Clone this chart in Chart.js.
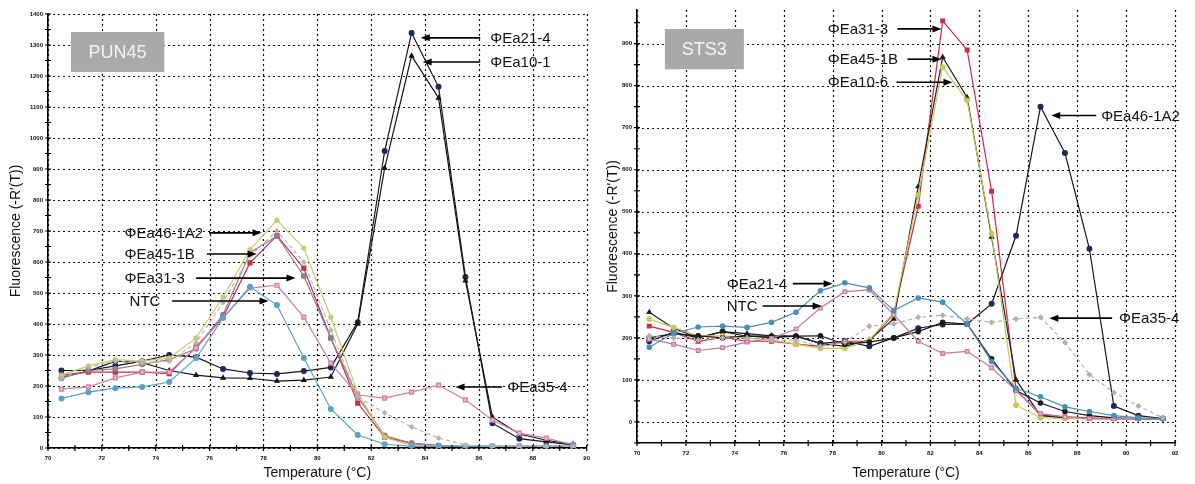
<!DOCTYPE html>
<html lang="en">
<head>
<meta charset="UTF-8">
<title>Melt curves PUN45 / STS3</title>
<script src="https://cdn.jsdelivr.net/npm/chart.js"></script>
<style>
    html, body { margin: 0; padding: 0; background: #fff; }
    body {
        width: 1195px;
        height: 484px;
        position: relative;
        overflow: hidden;
        font-family: 'Liberation Sans', Arial, sans-serif;
    }
    .panel { position: absolute; top: 0; height: 484px; }
    #left { left: 0; width: 597px; }
    #right { left: 597px; width: 598px; }
</style>
</head>
<body>
<div class="panel" id="left"><canvas id="punChart"></canvas></div>
<div class="panel" id="right"><canvas id="stsChart"></canvas></div>

<script>
// ---- PUN45 panel (left) ----
const punTemps = [70.5, 71.5, 72.5, 73.5, 74.5, 75.5, 76.5, 77.5, 78.5, 79.5,
                  80.5, 81.5, 82.5, 83.5, 84.5, 85.5, 86.5, 87.5, 88.5, 89.5];
const pun21_4   = [250, 250, 265, 280, 300, 293, 255, 242, 239, 248, 260, 406, 958, 1339, 1165, 552, 80, 30, 20, 10];
const pun10_1   = [228, 248, 280, 275, 250, 235, 226, 225, 216, 219, 229, 400, 903, 1265, 1129, 540, 100, 45, 25, 12];
const pun46_1A2 = [235, 265, 285, 280, 290, 355, 487, 640, 735, 645, 422, 177, 35, 8, 5, 5, 5, 5, 5, 5];
const pun45_1B  = [225, 250, 255, 270, 285, 320, 430, 630, 684, 555, 355, 165, 40, 15, 8, 5, 5, 5, 5, 5];
const pun31_3   = [235, 245, 245, 245, 240, 326, 422, 597, 685, 580, 355, 145, 35, 15, 8, 5, 5, 5, 5, 5];
const pun35_4   = [190, 197, 226, 245, 245, 323, 420, 516, 525, 422, 274, 171, 161, 180, 203, 155, 90, 48, 32, 10];
const punNTC    = [160, 180, 193, 197, 213, 290, 420, 520, 461, 290, 126, 42, 12, 5, 5, 5, 5, 5, 5, 5];
const pun10_6   = [225, 260, 280, 275, 280, 340, 470, 620, 700, 600, 380, 165, 113, 68, 32, 10, 5, 5, 5, 5];

// ---- STS3 panel (right) ----
const stsTemps = [70.5, 71.5, 72.5, 73.5, 74.5, 75.5, 76.5, 77.5, 78.5, 79.5, 80.5,
                  81.5, 82.5, 83.5, 84.5, 85.5, 86.5, 87.5, 88.5, 89.5, 90.5, 91.5];
const sts31_3   = [228, 213, 192, 201, 192, 192, 185, 180, 192, 192, 257, 513, 954, 885, 549, 77, 17, 12, 10, 8, 8, 8];
const sts45_1B  = [261, 223, 200, 215, 210, 205, 204, 187, 180, 195, 245, 560, 868, 772, 440, 100, 15, 10, 8, 8, 8, 8];
const sts10_6   = [245, 225, 205, 205, 200, 195, 185, 175, 175, 195, 260, 540, 844, 765, 448, 40, 10, 8, 8, 8, 8, 8];
const sts46_1A2 = [192, 213, 200, 215, 204, 204, 204, 187, 192, 180, 200, 223, 232, 233, 281, 443, 750, 640, 412, 38, 15, 8];
const sts21_4   = [178, 211, 226, 228, 225, 237, 261, 312, 331, 319, 265, 295, 285, 233, 144, 80, 60, 36, 25, 15, 10, 8];
const stsNTC    = [197, 185, 170, 177, 190, 199, 221, 271, 310, 314, 255, 192, 163, 168, 129, 75, 20, 12, 8, 8, 8, 8];
const sts35_4   = [205, 200, 195, 200, 200, 195, 195, 180, 190, 228, 233, 249, 254, 245, 237, 245, 249, 189, 113, 70, 38, 10];
const stsOther  = [200, 210, 205, 200, 205, 200, 204, 205, 185, 190, 200, 215, 237, 233, 150, 75, 45, 25, 15, 10, 8, 8];

// arrow labels: text starts at textT, arrow runs from tailT to tipT at height v
const punNotes = [
    { text: 'ΦEa21-4',   v: 1323, textT: 86.42, tailT: 86.05, tipT: 83.84 },
    { text: 'ΦEa10-1',   v: 1245, textT: 86.42, tailT: 86.05, tipT: 83.91 },
    { text: 'ΦEa46-1A2', v: 694,  textT: 72.84, tailT: 75.98, tipT: 77.93 },
    { text: 'ΦEa45-1B',  v: 626,  textT: 72.84, tailT: 75.90, tipT: 77.75 },
    { text: 'ΦEa31-3',   v: 548,  textT: 72.84, tailT: 75.50, tipT: 79.19 },
    { text: 'NTC',       v: 474,  textT: 73.03, tailT: 74.61, tipT: 78.19 },
    { text: 'ΦEa35-4',   v: 197,  textT: 87.05, tailT: 86.86, tipT: 85.13 }
];
const stsNotes = [
    { text: 'ΦEa31-3',   v: 935, textT: 77.80, tailT: 80.65, tipT: 82.45 },
    { text: 'ΦEa45-1B',  v: 863, textT: 77.80, tailT: 81.06, tipT: 82.45 },
    { text: 'ΦEa10-6',   v: 808, textT: 77.80, tailT: 80.61, tipT: 82.90 },
    { text: 'ΦEa46-1A2', v: 729, textT: 88.98, tailT: 88.78, tipT: 86.94 },
    { text: 'ΦEa21-4',   v: 329, textT: 73.67, tailT: 76.37, tipT: 78.00 },
    { text: 'NTC',       v: 276, textT: 73.67, tailT: 75.14, tipT: 77.55 },
    { text: 'ΦEa35-4',   v: 247, textT: 89.71, tailT: 89.43, tipT: 86.86 }
];

const FONT = "'Liberation Sans', Arial, sans-serif";

function series(label, temps, vals, color, extra) {
    return Object.assign({
        label: label,
        data: temps.map((t, i) => ({ x: t, y: vals[i] })),
        borderColor: color,
        backgroundColor: color,
        borderWidth: 1.2,
        pointRadius: 2.2,
        pointHoverRadius: 2.2,
        pointStyle: 'circle',
        tension: 0,
        fill: false
    }, extra || {});
}

function notesPlugin(title, box, notes) {
    return {
        id: 'notes',
        afterDatasetsDraw(chart) {
            const { ctx, scales: { x, y } } = chart;
            ctx.save();
            // title box
            const bx0 = x.getPixelForValue(box.t0), bx1 = x.getPixelForValue(box.t1);
            const by0 = y.getPixelForValue(box.v0), by1 = y.getPixelForValue(box.v1);
            ctx.fillStyle = '#a9a9a9';
            ctx.fillRect(bx0, by0, bx1 - bx0, by1 - by0);
            ctx.fillStyle = '#f4f4f4';
            ctx.font = '18px ' + FONT;
            ctx.textAlign = 'center';
            ctx.textBaseline = 'middle';
            ctx.fillText(title, (bx0 + bx1) / 2, (by0 + by1) / 2 + 1);

            ctx.font = '15px ' + FONT;
            ctx.textAlign = 'left';
            notes.forEach(n => {
                const py = y.getPixelForValue(n.v);
                const x0 = x.getPixelForValue(n.tailT);
                const x1 = x.getPixelForValue(n.tipT);
                const dir = Math.sign(x1 - x0);
                ctx.strokeStyle = '#000';
                ctx.fillStyle = '#000';
                ctx.lineWidth = 1.6;
                ctx.beginPath();
                ctx.moveTo(x0, py);
                ctx.lineTo(x1 - dir * 6, py);
                ctx.stroke();
                ctx.beginPath();
                ctx.moveTo(x1, py);
                ctx.lineTo(x1 - dir * 9, py - 3.5);
                ctx.lineTo(x1 - dir * 9, py + 3.5);
                ctx.closePath();
                ctx.fill();
                ctx.fillStyle = '#111';
                ctx.fillText(n.text, x.getPixelForValue(n.textT), py + 1);
            });
            ctx.restore();
        }
    };
}

// dotted grid at the labelled ticks, plus small tick marks across both axes
const axisTicks = {
    id: 'axisTicks',
    beforeDatasetsDraw(chart) {
        const { ctx, chartArea: a, scales: { x, y } } = chart;
        ctx.save();
        ctx.strokeStyle = '#111';
        ctx.lineWidth = 1.2;
        ctx.setLineDash([2, 3]);
        x.ticks.forEach(t => {
            const px = Math.round(x.getPixelForValue(t.value)) + 0.5;
            ctx.beginPath();
            ctx.moveTo(px, a.top);
            ctx.lineTo(px, a.bottom);
            ctx.stroke();
        });
        y.ticks.forEach(t => {
            const py = Math.round(y.getPixelForValue(t.value)) + 0.5;
            ctx.beginPath();
            ctx.moveTo(a.left, py);
            ctx.lineTo(a.right, py);
            ctx.stroke();
        });
        ctx.restore();
    },
    afterDraw(chart) {
        const { ctx, chartArea: a, scales: { x, y } } = chart;
        ctx.save();
        ctx.strokeStyle = '#000';
        ctx.lineWidth = 1.2;
        ctx.beginPath();
        for (let t = Math.ceil(x.min); t <= x.max; t++) {
            const px = x.getPixelForValue(t);
            ctx.moveTo(px, a.bottom - 3);
            ctx.lineTo(px, a.bottom + 3);
        }
        for (let v = Math.ceil(y.min / 50) * 50; v <= y.max; v += 50) {
            const py = y.getPixelForValue(v);
            ctx.moveTo(a.left - 3, py);
            ctx.lineTo(a.left + 3, py);
        }
        ctx.stroke();
        ctx.restore();
    }
};

function makeChart(id, cfg) {
    const tickFont = { family: FONT, size: 6, weight: 'bold' };
    const noGrid = { display: true, drawOnChartArea: false, drawTicks: false };
    return new Chart(document.getElementById(id), {
        type: 'line',
        data: { datasets: cfg.datasets },
        options: {
            responsive: true,
            maintainAspectRatio: false,
            animation: false,
            layout: { padding: { top: cfg.padTop, right: cfg.padRight, left: 0, bottom: 0 } },
            plugins: { legend: { display: false }, tooltip: { enabled: false } },
            scales: {
                x: {
                    type: 'linear',
                    min: cfg.xMin,
                    max: cfg.xMax,
                    ticks: { stepSize: 2, font: tickFont, color: '#111', padding: 7, maxRotation: 0, autoSkip: false,
                             callback: v => String(v) },
                    grid: noGrid,
                    border: { display: true, color: '#000', width: 1.6 },
                    title: { display: true, text: 'Temperature (°C)', font: { family: FONT, size: 14 }, color: '#111', padding: { top: 0, bottom: 2 } },
                    afterFit: s => { s.height = cfg.xAxisH; }
                },
                y: {
                    min: cfg.yMin,
                    max: cfg.yMax,
                    ticks: { stepSize: 100, includeBounds: false, font: tickFont, color: '#111', padding: 5,
                             callback: v => String(v) },
                    grid: noGrid,
                    border: { display: true, color: '#000', width: 1.6 },
                    title: { display: true, text: "Fluorescence (-R'(T))", font: { family: FONT, size: 14 }, color: '#111', padding: { top: cfg.yTitlePad, bottom: 0 } },
                    afterFit: s => { s.width = cfg.yAxisW; }
                }
            }
        },
        plugins: [axisTicks, notesPlugin(cfg.title, cfg.box, cfg.notes)]
    });
}

makeChart('punChart', {
    title: 'PUN45',
    box: { t0: 70.85, t1: 74.32, v0: 1342, v1: 1213 },
    notes: punNotes,
    xMin: 70, xMax: 90, yMin: 0, yMax: 1400,
    padTop: 14, padRight: 7, xAxisH: 36, yAxisW: 48, yTitlePad: 8,
    datasets: [
        series('ΦEa10-6', punTemps, pun10_6, '#b4b4b4', { borderDash: [4, 3], pointStyle: 'rectRot', pointRadius: 2 }),
        series('NTC', punTemps, punNTC, '#5aa2c8', { pointRadius: 2.4 }),
        series('ΦEa35-4', punTemps, pun35_4, '#d07fa2', { pointStyle: 'rect', pointRadius: 2.8, backgroundColor: '#e8b8cc' }),
        series('ΦEa46-1A2', punTemps, pun46_1A2, '#c9c96a', { pointRadius: 2 }),
        series('ΦEa45-1B', punTemps, pun45_1B, '#9c7a86', { pointRadius: 2.4 }),
        series('ΦEa31-3', punTemps, pun31_3, '#c0324a', { pointStyle: 'rect', pointRadius: 2.8 }),
        series('ΦEa10-1', punTemps, pun10_1, '#151515', { pointStyle: 'triangle', pointRadius: 2.4 }),
        series('ΦEa21-4', punTemps, pun21_4, '#151515', { pointBackgroundColor: '#1c2a5a', pointBorderColor: '#1c2a5a', pointRadius: 2.4 })
    ]
});

makeChart('stsChart', {
    title: 'STS3',
    box: { t0: 71.14, t1: 74.37, v0: 935, v1: 839 },
    notes: stsNotes,
    xMin: 70, xMax: 92, yMin: -50, yMax: 980,
    padTop: 10, padRight: 20, xAxisH: 41, yAxisW: 40, yTitlePad: 8,
    datasets: [
        series('ΦEa35-4', stsTemps, sts35_4, '#b0b0b0', { borderDash: [4, 3], pointStyle: 'rectRot', pointRadius: 2.2 }),
        series('ΦEa21-4', stsTemps, sts21_4, '#4a8fb8', { pointRadius: 2.2 }),
        series('NTC', stsTemps, stsNTC, '#c57b9c', { pointStyle: 'rect', pointRadius: 2.6, backgroundColor: '#e6b6ca' }),
        series('other', stsTemps, stsOther, '#1a1a1a', { pointRadius: 2.2 }),
        series('ΦEa10-6', stsTemps, sts10_6, '#c6c85a', { pointRadius: 2.2 }),
        series('ΦEa45-1B', stsTemps, sts45_1B, '#202020', { pointStyle: 'triangle', pointRadius: 2.4 }),
        series('ΦEa31-3', stsTemps, sts31_3, '#cc2a4a', { pointStyle: 'rect', pointRadius: 2.6 }),
        series('ΦEa46-1A2', stsTemps, sts46_1A2, '#151515', { pointBackgroundColor: '#1c2a5a', pointBorderColor: '#1c2a5a', pointRadius: 2.4 })
    ]
});
</script>
</body>
</html>
